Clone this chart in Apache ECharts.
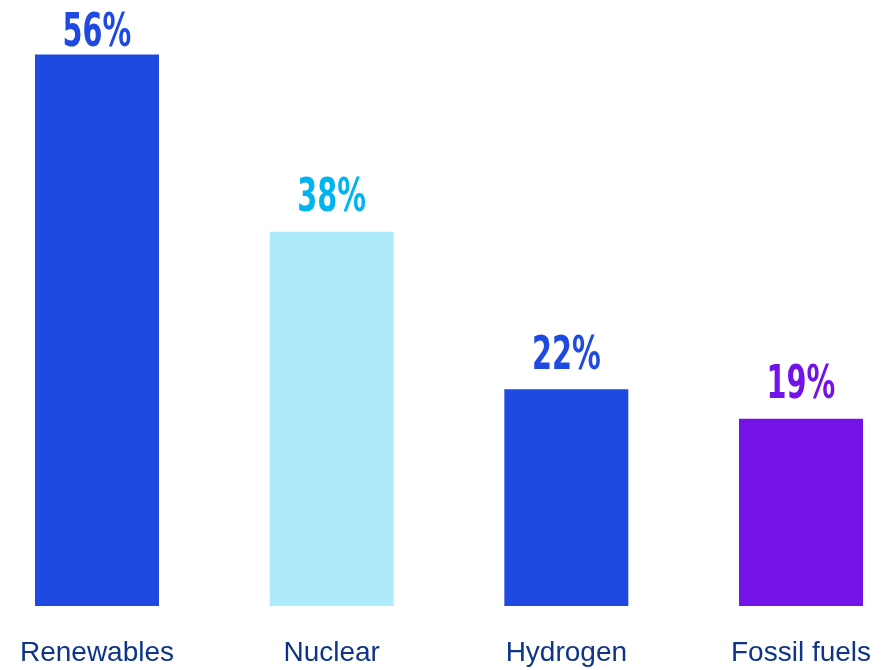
<!DOCTYPE html>
<html>
<head>
<meta charset="utf-8">
<script src="https://cdn.jsdelivr.net/npm/echarts@6/dist/echarts.min.js"></script>
<style>
  html, body { margin: 0; padding: 0; background: #ffffff; }
  #chart { width: 884px; height: 670px; }
</style>
</head>
<body>
<div id="chart"></div>
<script>
// Share of respondents by energy source (%)
const categories = ['Renewables', 'Nuclear', 'Hydrogen', 'Fossil fuels'];
const values = [56, 38, 22, 19];
const barColors = ['#1f4ae2', '#adeafc', '#1f4ae2', '#7413e8'];
const labelColors = ['#1f4ae2', '#00b5ef', '#1f4ae2', '#7413e8'];

const chart = echarts.init(document.getElementById('chart'), null, { renderer: 'canvas' });

chart.setOption({
  animation: false,
  backgroundColor: '#ffffff',
  // category ticks sit at the bar centres
  grid: { left: 97, right: 83, top: 15, bottom: 64, containLabel: false },
  xAxis: {
    type: 'category',
    data: categories,
    boundaryGap: false,
    axisLine: { show: false },
    axisTick: { show: false },
    splitLine: { show: false },
    axisLabel: {
      interval: 0,
      color: '#0f3588',
      fontFamily: 'Liberation Sans, Arial, sans-serif',
      fontSize: 28,
      lineHeight: 30,
      margin: 32
    }
  },
  yAxis: {
    type: 'value',
    min: 0,
    max: 60,
    show: false,
    splitLine: { show: false }
  },
  series: [
    {
      type: 'bar',
      data: values.map((v, i) => ({ value: v, itemStyle: { color: barColors[i] } })),
      barWidth: 124
    },
    {
      // condensed percentage labels above each bar, kept inside the canvas
      type: 'custom',
      data: values.map((v, i) => [i, v]),
      encode: { x: 0, y: 1 },
      z: 5,
      renderItem: function (params, api) {
        const idx = api.value(0);
        const val = api.value(1);
        const p = api.coord([idx, val]);
        return {
          type: 'text',
          x: p[0],
          y: Math.max(p[1] - 33, 34),
          scaleX: 0.68,
          style: {
            text: val + '%',
            fill: labelColors[idx],
            font: 'bold 47px "DejaVu Sans Condensed", "DejaVu Sans", sans-serif',
            align: 'center',
            verticalAlign: 'middle'
          }
        };
      }
    }
  ]
});
</script>
</body>
</html>
